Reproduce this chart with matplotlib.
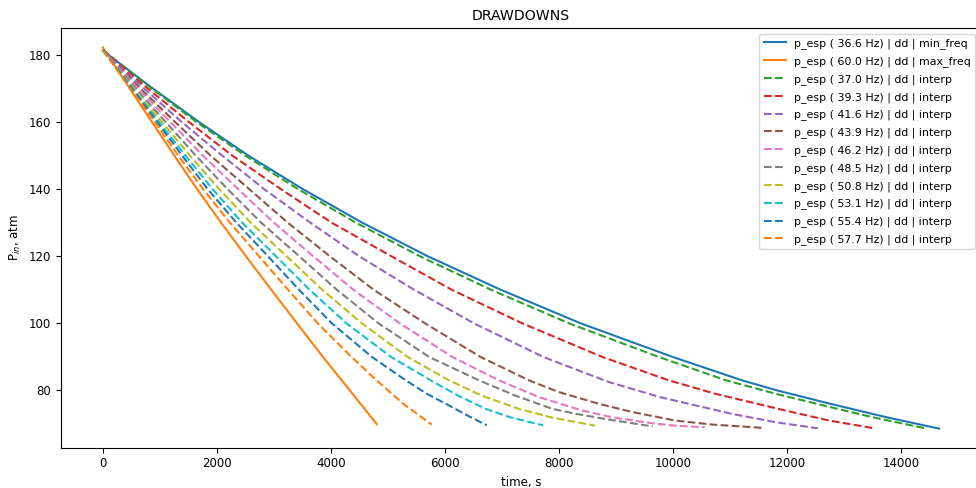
import matplotlib
matplotlib.use("Agg")
import matplotlib.pyplot as plt

plt.rcParams['font.size'] = 8.5

freqs = [36.6, 60.0, 37.0, 39.3, 41.6, 43.9, 46.2, 48.5, 50.8, 53.1, 55.4, 57.7]
kinds = ['min_freq', 'max_freq'] + ['interp'] * 10

# 36.6 Hz, min_freq
t_min = [0, 880, 1690, 2554, 3510, 4551, 5700, 6979, 8380, 9990, 11209, 11824, 12760, 13740, 14666]
p_min = [181.3, 170, 160, 150, 140, 130, 120, 110, 100, 90, 83, 80, 76, 72, 68.6]

# 60.0 Hz, max_freq
t_max = [0, 474, 862, 1255, 1655, 2075, 2510, 2955, 3405, 3860, 4190, 4520, 4806]
p_max = [182.3, 170, 160, 150, 140, 130, 120, 110, 100, 90, 83, 76, 69.9]

# 37.0 Hz
t_370 = [0, 858, 1648, 2500, 3425, 4440, 5560, 6810, 8175, 9745, 10930, 11800, 12760, 13500, 14450]
p_370 = [181.5, 170, 160, 150, 140, 130, 120, 110, 100, 90, 83, 79, 75, 72, 68.6]

# 39.3 Hz
t_393 = [0, 790, 1513, 2273, 3124, 4014, 5061, 6121, 7356, 8756, 9925, 10740, 11968, 12740, 13527]
p_393 = [181.5, 170, 160, 150, 140, 130, 120, 110, 100, 90, 83, 79, 74, 71, 68.7]

# 41.6 Hz
t_416 = [0, 725, 1386, 2095, 2832, 3640, 4496, 5460, 6510, 7720, 8874, 9770, 11033, 11800, 12540]
p_416 = [181.5, 170, 160, 150, 140, 130, 120, 110, 100, 90, 82.5, 78, 73, 70.5, 68.7]

# 43.9 Hz
t_439 = [0, 661, 1271, 1891, 2569, 3244, 3982, 4752, 5651, 6621, 7473, 7998, 8698, 9300, 10042, 10700, 11588]
p_439 = [181.5, 170, 160, 150, 140, 130, 120, 110, 100, 90, 83, 79.5, 76, 73.5, 71, 69.8, 68.8]

# 46.2 Hz
t_462 = [0, 621, 1187, 1757, 2376, 3001, 3690, 4395, 5208, 6128, 6947, 7647, 8406, 8926, 9632, 10024, 10555]
p_462 = [181.5, 170, 160, 150, 140, 130, 120, 110, 100, 90, 83, 78, 74, 72, 70.2, 69.5, 69.0]

# 48.5 Hz
t_485 = [0, 575, 1106, 1631, 2189, 2779, 3445, 4105, 4834, 5720, 6597, 7227, 7881, 8300, 8800, 9644]
p_485 = [181.5, 170, 160, 150, 140, 130, 120, 110, 100, 90, 83, 78.5, 74.5, 73, 71.5, 69.25]

# 50.8 Hz
t_508 = [0, 546, 1043, 1528, 2044, 2594, 3223, 3848, 4543, 5343, 6072, 6635, 7298, 7848, 8629]
p_508 = [181.5, 170, 160, 150, 140, 130, 120, 110, 100, 90, 83, 78.5, 74.5, 72, 69.5]

# 53.1 Hz
t_531 = [0, 523, 991, 1451, 1926, 2446, 3037, 3627, 4273, 5053, 5751, 6224, 6714, 7139, 7718]
p_531 = [181.5, 170, 160, 150, 140, 130, 120, 110, 100, 90, 83, 78.5, 74.5, 72, 69.6]

# 55.4 Hz
t_554 = [0, 506, 954, 1392, 1839, 2344, 2897, 3442, 4017, 4717, 5313, 5681, 6072, 6396, 6732]
p_554 = [181.5, 170, 160, 150, 140, 130, 120, 110, 100, 90, 83, 79, 75.5, 72.5, 69.6]

# 57.7 Hz
t_577 = [0, 483, 916, 1325, 1760, 2230, 2740, 3250, 3770, 4360, 4800, 5270, 5769]
p_577 = [181.5, 170, 160, 150, 140, 130, 120, 110, 100, 90, 83, 76, 69.8]

curves = [(t_min, p_min), (t_max, p_max), (t_370, p_370), (t_393, p_393),
          (t_416, p_416), (t_439, p_439), (t_462, p_462), (t_485, p_485),
          (t_508, p_508), (t_531, p_531), (t_554, p_554), (t_577, p_577)]

fig = plt.figure(figsize=(9.76, 4.88), dpi=100)
ax = fig.add_axes([0.0625, 0.0826, 0.9426, 0.8594])

for (t, p), f, k in zip(curves, freqs, kinds):
    ls = '-' if k != 'interp' else '--'
    ax.plot(t, p, ls, label=f'p_esp ( {f:.1f} Hz) | dd | {k}')

ax.set_xticks(range(0, 14001, 2000))
ax.set_yticks(range(80, 181, 20))
ax.set_title('DRAWDOWNS')
ax.set_xlabel('time, s')
ax.set_ylabel('P$_{in}$, atm')
ax.legend(loc='upper right', fontsize=7.9, labelspacing=0.63)

plt.savefig('out.png', dpi=100)
